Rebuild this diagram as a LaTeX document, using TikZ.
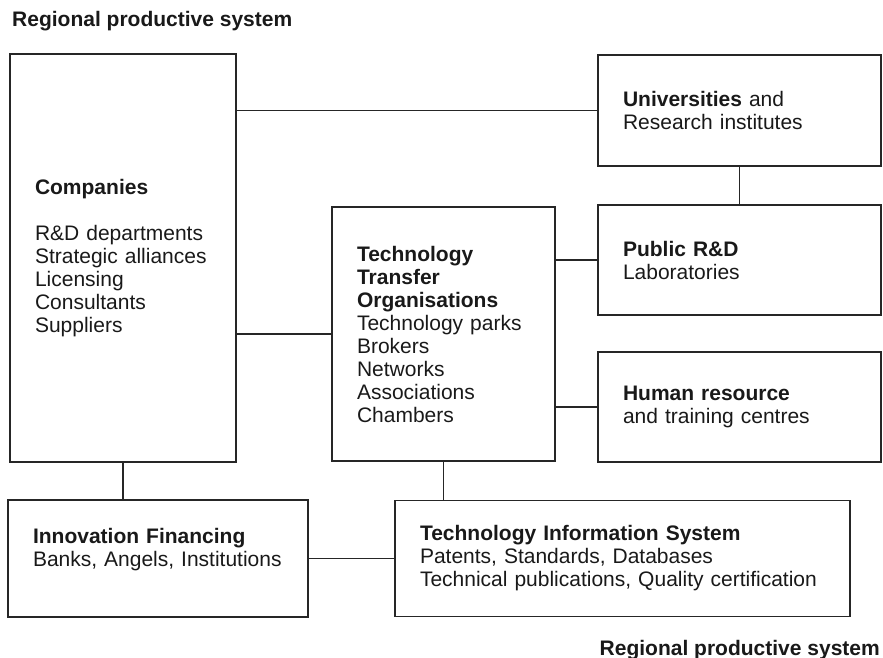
\documentclass[tikz,border=0pt]{standalone}
\usepackage{fontspec}
\setmainfont{Liberation Sans}
\usetikzlibrary{calc}
\newcommand{\bodysize}{\fontsize{21}{23}\selectfont}
\tikzset{
  blockbox/.style={draw=black!85, line width=1.4pt, align=left,
    inner xsep=25pt, inner ysep=0pt, text=black!90, font=\bodysize},
  link/.style={draw=black!85, line width=1.4pt},
  sysname/.style={inner sep=0pt, text=black!90, font=\bodysize\bfseries}
}

\begin{document}
\begin{tikzpicture}[x=1pt,y=-1pt]
        \useasboundingbox (0,0) rectangle (883,658);
        % headings
        \node[sysname, anchor=base west] (ttltop) at (12,27) {Regional productive system};
        \node[sysname, anchor=base east] (ttlbot) at (880,655) {Regional productive system};
        % left column
        \node[blockbox, text width=176pt, minimum height=408pt] (comp) at (123,258)
            {\textbf{Companies}\\[23pt]R\&D departments\\Strategic alliances\\Licensing\\Consultants\\Suppliers};
        \node[blockbox, text width=250pt, minimum height=117pt] (inn) at (158,558.5)
            {\textbf{Innovation Financing}\\Banks, Angels, Institutions\\\mbox{}};
        % middle
        \node[blockbox, text width=173pt, minimum height=254pt] (tto) at (443.5,334)
            {\textbf{Technology}\\\textbf{Transfer}\\\textbf{Organisations}\\Technology parks\\Brokers\\Networks\\Associations\\Chambers};
        \node[blockbox, text width=405pt, minimum height=116pt] (tis) at (622.5,558.5)
            {\textbf{Technology Information System}\\Patents, Standards, Databases\\Technical publications, Quality certification};
        % right column
        \node[blockbox, text width=233pt, minimum height=111pt] (univ) at (739.5,110.5)
            {\textbf{Universities} and\\Research institutes};
        \node[blockbox, text width=233pt, minimum height=110pt] (pub) at (739.5,260)
            {\textbf{Public R\&D}\\Laboratories};
        \node[blockbox, text width=233pt, minimum height=110pt] (hum) at (739.5,407)
            {\textbf{Human resource}\\and training centres};
        % links
        \draw[link] (univ.west) -- (univ.west -| comp.east);
        \draw[link] (univ.south) -- (pub.north);
        \draw[link] (pub.west) -- (pub.west -| tto.east);
        \draw[link] (hum.west) -- (hum.west -| tto.east);
        \draw[link] (tto.west) -- (tto.west -| comp.east);
        \draw[link] (comp.south) -- (comp.south |- inn.north);
        \draw[link] (tto.south) -- (tto.south |- tis.north);
        \draw[link] (inn.east) -- (inn.east -| tis.west);
\end{tikzpicture}
\end{document}
